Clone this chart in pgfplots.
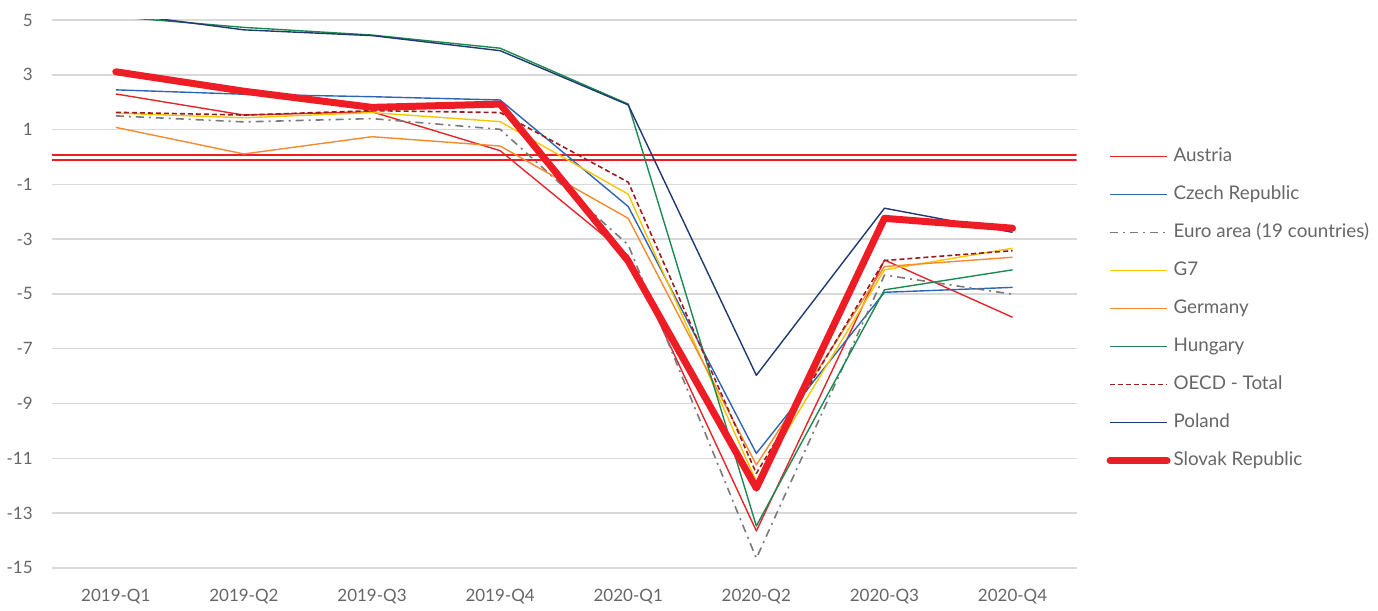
\documentclass[border=0pt]{standalone}
\usepackage{pgfplots}
\pgfplotsset{compat=1.18}
\usepackage{fontspec}
\setmainfont{Lato}
\definecolor{cAus}{HTML}{E8242B}
\definecolor{cCze}{HTML}{2E64B4}
\definecolor{cEur}{HTML}{7A7A7A}
\definecolor{cG7}{HTML}{F7C600}
\definecolor{cGer}{HTML}{F58A2F}
\definecolor{cHun}{HTML}{1C8A50}
\definecolor{cOECD}{HTML}{9B1B1F}
\definecolor{cPol}{HTML}{1E3A6E}
\definecolor{cSvk}{HTML}{EE1C25}
\definecolor{cGrid}{HTML}{D9D9D9}
\definecolor{cTxt}{HTML}{666666}
\begin{document}
\begin{tikzpicture}
\begin{axis}[
  name=main,
  scale only axis,
  width=512.5pt, height=274pt,
  xmin=-0.5, xmax=7.5, ymin=-15, ymax=5,
  xtick={0,...,7},
  xticklabels={2019-Q1,2019-Q2,2019-Q3,2019-Q4,2020-Q1,2020-Q2,2020-Q3,2020-Q4},
  ytick={-15,-13,...,5},
  ymajorgrids, grid style={cGrid, line width=0.75pt},
  axis line style={draw=none},
  major tick length=0pt,
  tick label style={font=\fontsize{8.5}{10}\selectfont, text=cTxt},
  /pgf/number format/assume math mode=true,
  xticklabel style={yshift=-7pt},
  yticklabel style={xshift=-6pt},
  legend cell align=left,
  legend style={at={(1.023,0.775)}, anchor=north west, draw=none, fill=none,
    font=\fontsize{9.4}{11}\selectfont, text=cTxt, row sep=10pt,
    nodes={text height=7pt, text depth=2pt, inner sep=0pt, inner xsep=1.5pt}},
  legend image code/.code={\draw[#1] plot coordinates {(0pt,0pt) (28.5pt,0pt)};},
  every axis plot/.append style={line width=0.7pt, line join=round},
]
\addplot[cGrid, line width=0.75pt, forget plot] coordinates {(-0.5,-15) (7.5,-15)};
\addplot[cSvk, line width=1.2pt, forget plot] coordinates {(-0.5,0.08) (7.5,0.08)};
\addplot[cSvk, line width=1.2pt, forget plot] coordinates {(-0.5,-0.11) (7.5,-0.11)};
\addplot[cAus] coordinates {(0,2.30) (1,1.53) (2,1.65) (3,0.23) (4,-3.60) (5,-13.65) (6,-3.76) (7,-5.85)};
\addlegendentry{Austria}
\addplot[cCze] coordinates {(0,2.45) (1,2.29) (2,2.20) (3,2.08) (4,-1.81) (5,-10.82) (6,-4.94) (7,-4.76)};
\addlegendentry{Czech Republic}
\addplot[cEur, line width=0.8pt, dash pattern=on 4pt off 2.5pt on 1pt off 2.5pt] coordinates {(0,1.50) (1,1.28) (2,1.40) (3,1.01) (4,-3.21) (5,-14.65) (6,-4.31) (7,-5.01)};
\addlegendentry{Euro area (19 countries)}
\addplot[cG7] coordinates {(0,1.60) (1,1.43) (2,1.62) (3,1.29) (4,-1.36) (5,-11.85) (6,-4.12) (7,-3.33)};
\addlegendentry{G7}
\addplot[cGer] coordinates {(0,1.08) (1,0.11) (2,0.74) (3,0.40) (4,-2.24) (5,-11.24) (6,-4.00) (7,-3.66)};
\addlegendentry{Germany}
\addplot[cHun] coordinates {(0,5.12) (1,4.73) (2,4.45) (3,3.97) (4,1.93) (5,-13.47) (6,-4.85) (7,-4.12)};
\addlegendentry{Hungary}
\addplot[cOECD, line width=0.8pt, dash pattern=on 2.5pt off 1.5pt] coordinates {(0,1.63) (1,1.53) (2,1.69) (3,1.62) (4,-0.92) (5,-11.55) (6,-3.78) (7,-3.42)};
\addlegendentry{OECD - Total}
\addplot[cPol] coordinates {(0,5.25) (1,4.64) (2,4.43) (3,3.88) (4,1.90) (5,-7.97) (6,-1.87) (7,-2.75)};
\addlegendentry{Poland}
\addplot[cSvk, line width=3.5pt, line cap=round] coordinates {(0,3.11) (1,2.40) (2,1.81) (3,1.93) (4,-3.80) (5,-12.09) (6,-2.24) (7,-2.60)};
\addlegendentry{Slovak Republic}
\end{axis}
\path ([yshift=10pt]main.north);
\end{tikzpicture}
\end{document}
